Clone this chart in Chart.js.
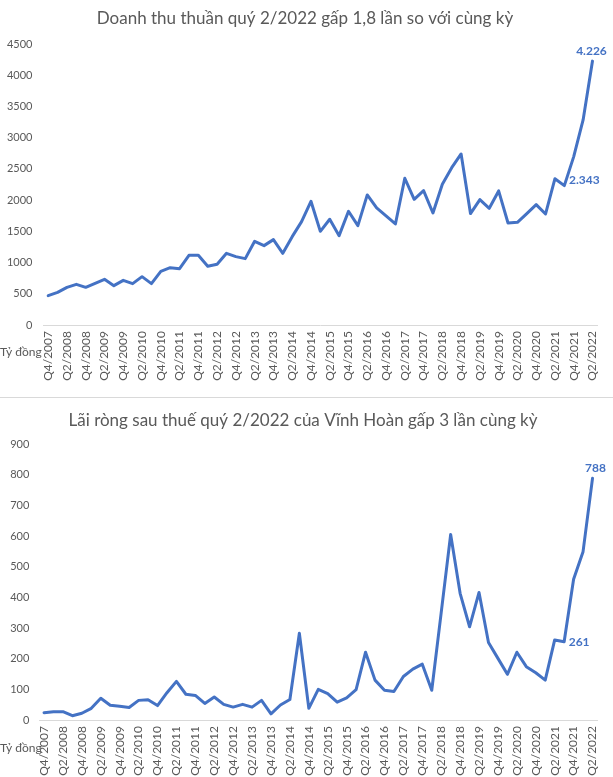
<!DOCTYPE html>
<html><head><meta charset="utf-8">
<script src="https://cdn.jsdelivr.net/npm/chart.js@4.4.0/dist/chart.umd.min.js"></script>
<style>
html,body{margin:0;padding:0;background:#fff;width:613px;height:777px;overflow:hidden}
#w1{position:absolute;left:0;top:0;width:613px;height:395px}
#w2{position:absolute;left:0;top:400px;width:613px;height:377px}
#sep{position:absolute;left:0;top:397px;width:613px;height:0;border-top:1px solid #d9d9d9}
</style></head><body>
<div id="w1"><canvas id="c1" width="613" height="395"></canvas></div>
<div id="sep"></div>
<div id="w2"><canvas id="c2" width="613" height="377"></canvas></div>
<script>
const quarters = [
 "Q4/2007",
 "Q1/2008","Q2/2008","Q3/2008","Q4/2008",
 "Q1/2009","Q2/2009","Q3/2009","Q4/2009",
 "Q1/2010","Q2/2010","Q3/2010","Q4/2010",
 "Q1/2011","Q2/2011","Q3/2011","Q4/2011",
 "Q1/2012","Q2/2012","Q3/2012","Q4/2012",
 "Q1/2013","Q2/2013","Q3/2013","Q4/2013",
 "Q1/2014","Q2/2014","Q3/2014","Q4/2014",
 "Q1/2015","Q2/2015","Q3/2015","Q4/2015",
 "Q1/2016","Q2/2016","Q3/2016","Q4/2016",
 "Q1/2017","Q2/2017","Q3/2017","Q4/2017",
 "Q1/2018","Q2/2018","Q3/2018","Q4/2018",
 "Q1/2019","Q2/2019","Q3/2019","Q4/2019",
 "Q1/2020","Q2/2020","Q3/2020","Q4/2020",
 "Q1/2021","Q2/2021","Q3/2021","Q4/2021",
 "Q1/2022","Q2/2022"
];

const revenue = [
 470,
 523,603,651,603,
 667,731,630,715,
 662,774,662,860,
 918,902,1116,1116,
 940,972,1148,1095,
 1063,1340,1271,1367,
 1148,1415,1655,1981,
 1500,1693,1431,1821,
 1591,2083,1874,1746,
 1618,2350,2013,2152,
 1794,2253,2520,2739,
 1784,2008,1869,2147,
 1634,1645,1784,1928,
 1778,2343,2232,2697,
 3284,4226
];

const profit = [
 24,
 27,27,14,22,
 38,71,48,45,
 41,64,66,47,
 89,126,84,80,
 54,75,51,42,
 51,42,64,20,
 49,67,283,38,
 100,86,58,72,
 99,221,130,97,
 93,142,166,182,
 97,350,605,413,
 304,416,253,201,
 149,221,174,154,
 130,261,255,459,
 549,788
];

const revenueTitle = "Doanh thu thuần quý 2/2022 gấp 1,8 lần so với cùng kỳ";
const profitTitle = "Lãi ròng sau thuế quý 2/2022 của Vĩnh Hoàn gấp 3 lần cùng kỳ";
const unitLabel = "Tỷ đồng";
const revenueLabelIdx = [54, 58];
const profitLabelIdx = [54, 58];

const FONT = "Lato, 'Noto Sans', sans-serif";
const GREY = "#595959";
const BLUE = "#4472C4";

function fmt(n){ return String(n).replace(/\B(?=(\d{3})+(?!\d))/g, "."); }

function makeChart(id, values, cfg){
  const ctx = document.getElementById(id);
  const H = ctx.height;
  const overlay = {
    id: 'overlay',
    afterDraw(chart){
      const c = chart.ctx;
      c.save();
      c.fillStyle = GREY;
      c.font = "17px " + FONT;
      c.textAlign = "center";
      c.textBaseline = "middle";
      c.fillText(cfg.title, cfg.titleX, cfg.titleY);
      c.font = "12px " + FONT;
      c.textAlign = "left";
      c.fillText(unitLabel, 0, cfg.unitY);
      const meta = chart.getDatasetMeta(0);
      c.fillStyle = BLUE;
      c.font = "bold 12px " + FONT;
      cfg.labels.forEach((lb, k) => {
        const pt = meta.data[lb.i];
        const spec = cfg.labelPos[k];
        c.textAlign = spec.align;
        c.fillText(fmt(values[lb.i]), pt.x + spec.dx, pt.y + spec.dy);
      });
      c.restore();
    }
  };
  return new Chart(ctx, {
    type: 'line',
    data: {
      labels: quarters,
      datasets: [{
        data: values,
        borderColor: BLUE,
        backgroundColor: BLUE,
        borderWidth: 3,
        pointRadius: 0,
        tension: 0,
        borderJoinStyle: 'round',
        borderCapStyle: 'round'
      }]
    },
    options: {
      responsive: false,
      animation: false,
      layout: { padding: { top: cfg.top, right: cfg.rightPad, left: 0, bottom: 0 } },
      plugins: { legend: { display: false }, tooltip: { enabled: false }, title: { display: false } },
      scales: {
        x: {
          offset: true,
          grid: { display: false, drawTicks: false },
          border: { display: true, color: '#d9d9d9', width: 1 },
          ticks: {
            autoSkip: false,
            maxRotation: 90, minRotation: 90,
            padding: 6,
            color: GREY,
            font: { family: FONT, size: 12 },
            callback: function(v, i){ return i % 2 === 0 ? quarters[i] : ''; }
          },
          afterFit: s => { s.height = H - cfg.bottom; }
        },
        y: {
          min: 0, max: cfg.yMax,
          grid: { display: false, drawTicks: false },
          border: { display: false },
          ticks: {
            stepSize: cfg.step,
            padding: cfg.tickPad,
            color: GREY,
            font: { family: FONT, size: 11 },
            callback: v => String(v)
          },
          afterFit: s => { s.width = cfg.left; }
        }
      }
    },
    plugins: [overlay]
  });
}

makeChart('c1', revenue, {
  title: revenueTitle, titleX: 305, titleY: 19, unitY: 352,
  yMax: 4500, step: 500, top: 44, bottom: 325, left: 43.5, rightPad: 13, tickPad: 11,
  labels: revenueLabelIdx.map(i => ({i})),
  labelPos: [{dx: 14, dy: 1, align: 'left'}, {dx: -1, dy: -10, align: 'center'}]
});

makeChart('c2', profit, {
  title: profitTitle, titleX: 303, titleY: 21, unitY: 348,
  yMax: 900, step: 100, top: 44, bottom: 320, left: 39.3, rightPad: 10.4, tickPad: 10,
  labels: profitLabelIdx.map(i => ({i})),
  labelPos: [{dx: 14, dy: 2, align: 'left'}, {dx: 3, dy: -10, align: 'center'}]
});
</script>
</body></html>
